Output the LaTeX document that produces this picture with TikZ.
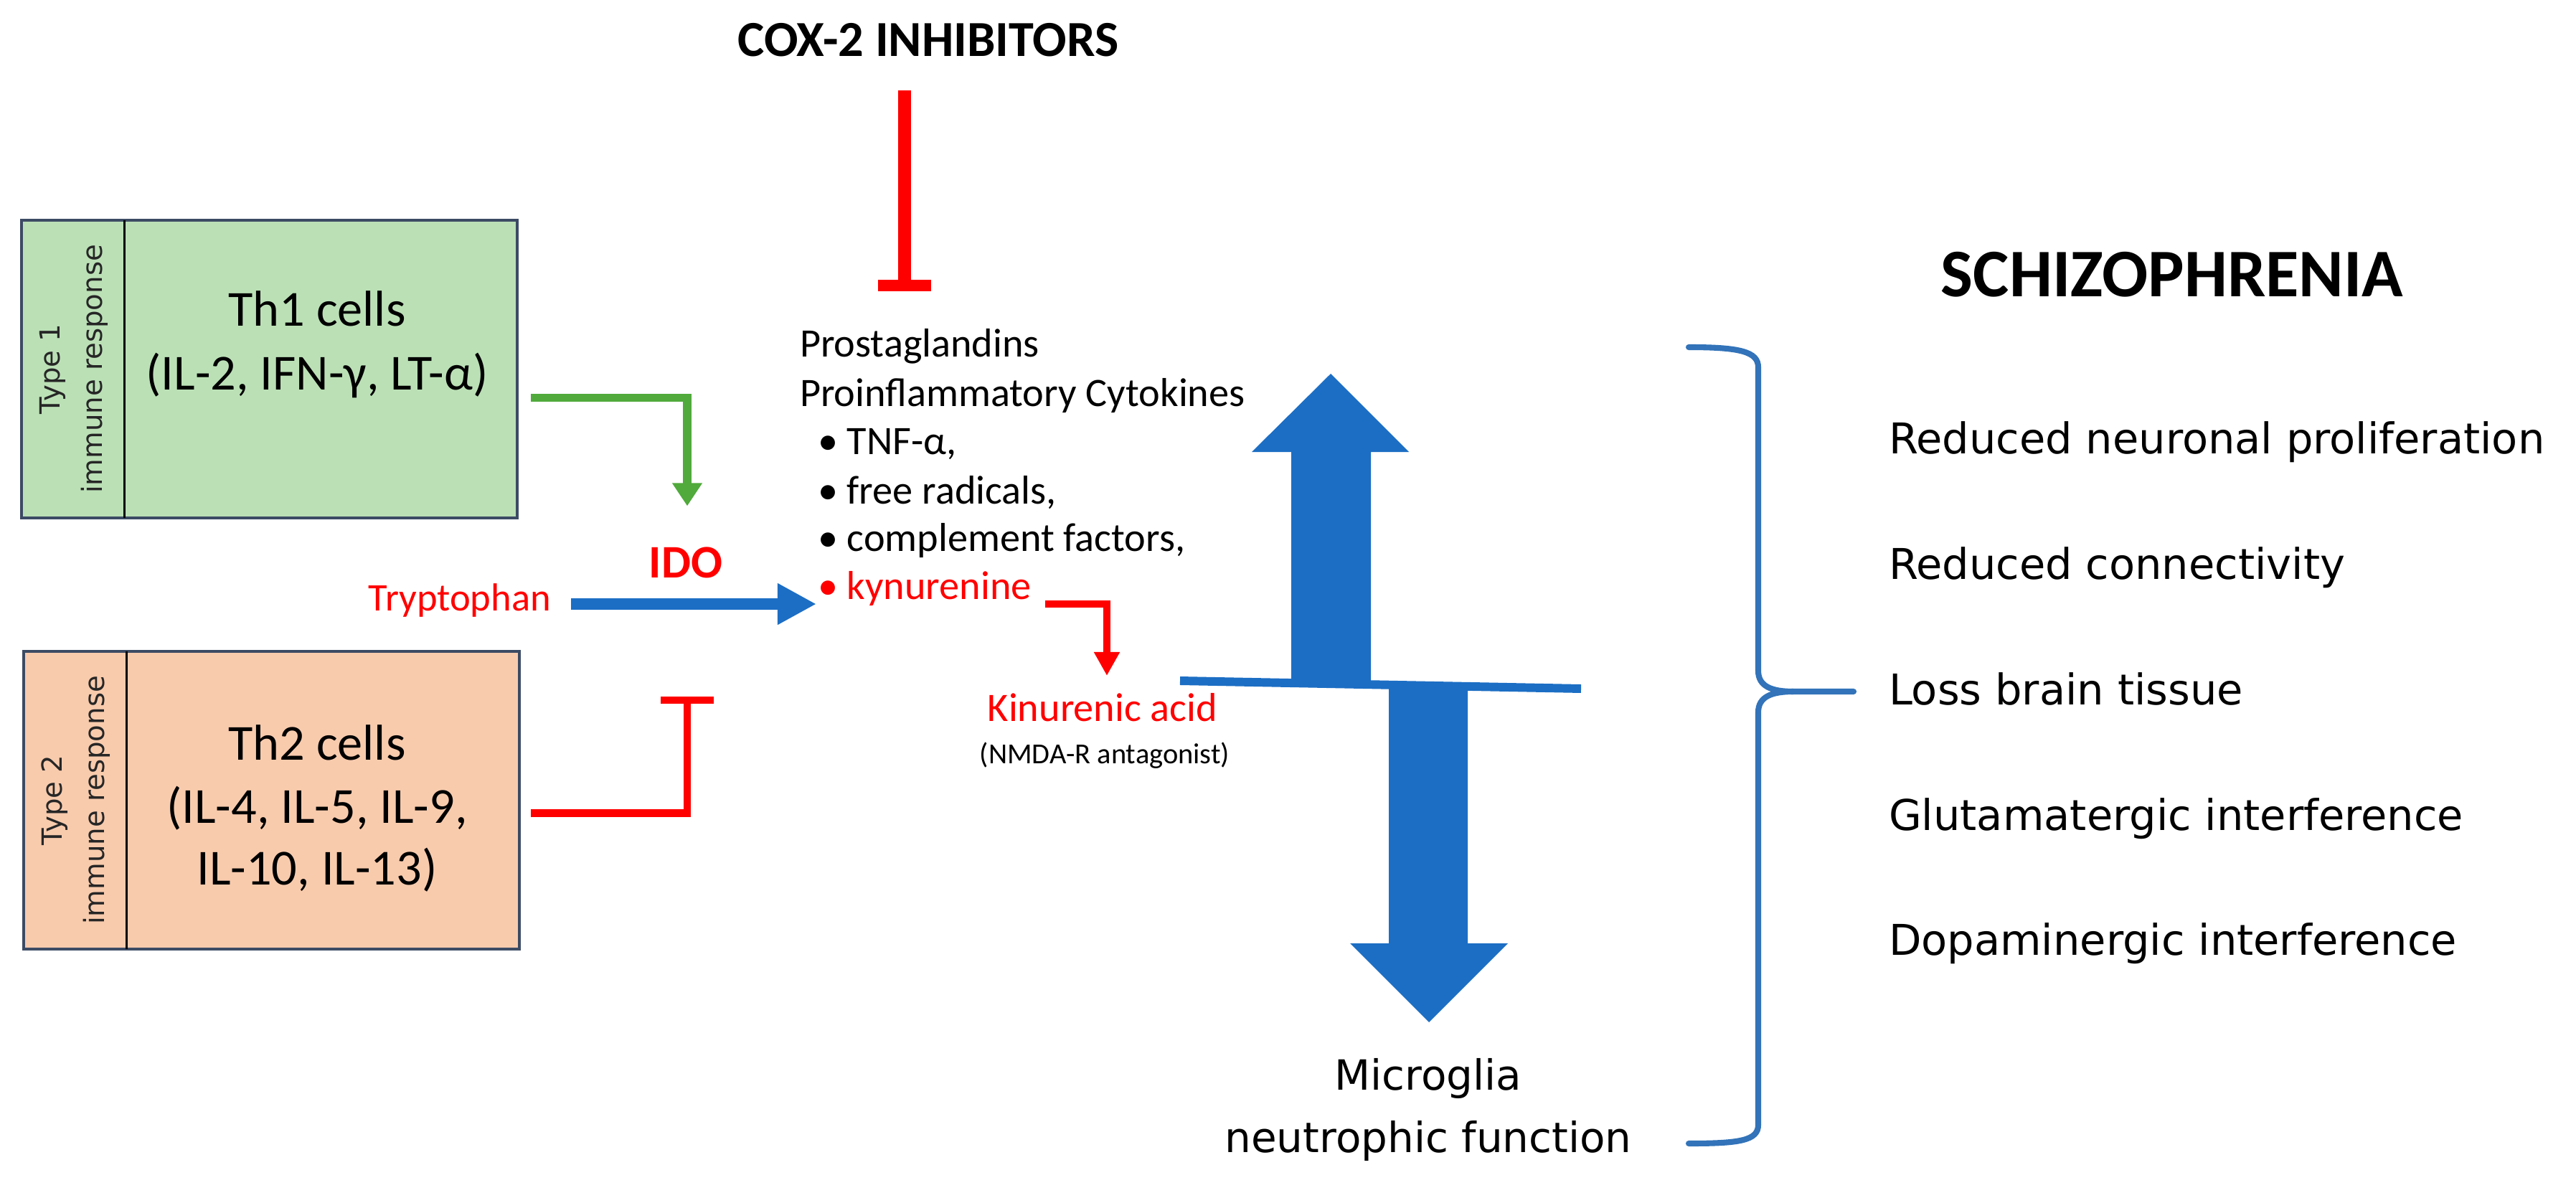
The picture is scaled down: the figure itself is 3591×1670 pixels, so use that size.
\documentclass[tikz,border=0pt]{standalone}
\usepackage{fontspec}
\setmainfont{Carlito}
\newfontfamily\verd{DejaVu Sans}
\usetikzlibrary{arrows.meta,calc}
\definecolor{thonefill}{RGB}{187,224,182}
\definecolor{thtwofill}{RGB}{248,203,173}
\definecolor{boxborder}{RGB}{60,75,100}
\definecolor{bigblue}{RGB}{28,110,196}
\definecolor{braceblue}{RGB}{50,115,185}
\definecolor{arrgreen}{RGB}{80,170,60}
\definecolor{pured}{RGB}{255,0,0}
\begin{document}
\begin{tikzpicture}[x=0.01cm,y=-0.01cm,
  every node/.style={inner sep=0pt,outer sep=0pt},
  cellbox/.style={draw=boxborder,line width=1.1pt,minimum width=6.91cm,minimum height=4.15cm},
  divider/.style={draw=black,line width=0.8pt},
  vlab/.style={rotate=90,align=center,font=\verd\fontsize{11}{16.8}\selectfont,text=black!85},
  celltxt/.style={font=\fontsize{20}{24}\selectfont,anchor=base},
  blk/.style={font=\fontsize{16}{19}\selectfont,anchor=base west},
  verdtxt/.style={font=\verd\fontsize{16.5}{20}\selectfont,anchor=base},
  item/.style={font=\verd\fontsize{16.8}{20}\selectfont,anchor=base west},
  greenarr/.style={draw=arrgreen,line width=3.4pt,-{Triangle[width=4mm,length=3.2mm]}},
  bluearr/.style={draw=bigblue,line width=4.55pt,-{Triangle[width=5.4mm,length=5.4mm]}},
  redarr/.style={draw=pured,line width=3.1pt,-{Triangle[width=3.4mm,length=3.3mm]}},
  redinh/.style={draw=pured,line width=3.1pt},
  redbar/.style={draw=pured,line width=2.9pt},
  coxline/.style={draw=pured,line width=5.1pt},
  coxbar/.style={draw=pured,line width=4.8pt},
  tiltline/.style={draw=bigblue,line width=3.4pt},
  bracestyle/.style={draw=braceblue,line width=2.3pt,line cap=round}]
\useasboundingbox (0,0) rectangle (3591,1670);
\fill[white] (0,0) rectangle (3591,1670);

% COX-2 inhibitors
\node[font=\bfseries\fontsize{20}{24}\selectfont,anchor=base] (cox) at (1294,79) {COX-2 INHIBITORS};
\coordinate (coxinh) at (1261,398);
\draw[coxline] ($(cox.base)+(-33,47)$) -- (coxinh);
\draw[coxbar] ($(coxinh)+(-37,0)$) -- ($(coxinh)+(37,0)$);

% Th1 box
\node[cellbox,fill=thonefill] (th1) at (375.5,514.5) {};
\draw[divider] ($(th1.north west)+(144,0)$) -- ($(th1.south west)+(144,0)$);
\node[vlab] (t1lab) at ($(th1.west)+(73,0)$) {Type 1\\immune response};
\node[celltxt] (th1a) at (442,455) {Th1 cells};
\node[celltxt] (th1b) at (442,544) {(IL-2, IFN-γ, LT-α)};

% Th2 box
\node[cellbox,fill=thtwofill] (th2) at (378.5,1115.5) {};
\draw[divider] ($(th2.north west)+(144,0)$) -- ($(th2.south west)+(144,0)$);
\node[vlab] (t2lab) at ($(th2.west)+(73,0)$) {Type 2\\immune response};
\node[celltxt] (th2a) at (442,1059) {Th2 cells};
\node[celltxt] (th2b) at (442,1147) {(IL-4, IL-5, IL-9,};
\node[celltxt] (th2c) at (442,1233) {IL-10, IL-13)};

% IDO and tryptophan
\node[font=\bfseries\fontsize{18.5}{22}\selectfont,text=pured,anchor=base] (ido) at (956,805) {IDO};
\node[font=\fontsize{15.5}{18}\selectfont,text=pured,anchor=base east] (trp) at (768,851) {Tryptophan};

% central text block
\node[blk] (prost) at (1115,498) {Prostaglandins};
\node[blk] (proinf) at (1115,567) {Proinflammatory Cytokines};
\node[blk] (tnf) at (1140,633) {• TNF-α,};
\node[blk] (frad) at (1140,702) {• free radicals,};
\node[blk] (compl) at (1140,768) {• complement factors,};
\node[blk,text=pured] (kyn) at (1140,835) {• kynurenine};

\node[font=\fontsize{16}{19}\selectfont,text=pured,anchor=base] (kin) at (1537,1005) {Kinurenic acid};
\node[font=\fontsize{11.5}{14}\selectfont,anchor=base] (nmda) at (1540,1064) {(NMDA-R antagonist)};

% connectors
\draw[greenarr] ($(th1.east)+(19,40)$) -| ($(ido.north)+(2,-57)$);
\coordinate (idoinh) at ($(ido.base)+(2,171)$);
\draw[redinh] ($(th2.east)+(16,18)$) -| (idoinh);
\draw[redbar] ($(idoinh)+(-37,0)$) -- ($(idoinh)+(37,0)$);
\draw[bluearr] ($(trp.base east)+(28,-9)$) -- ($(kyn.base west)+(-2,7)$);
\draw[redarr] ($(kyn.base east)+(19,7)$) -| ($(kin.north)+(6,-24)$);

% tilted line and big arrows
\coordinate (tl1) at (1645,949);
\coordinate (tl2) at (2204,960);
\fill[bigblue] (1800,950) -- (1800,630) -- (1745,630) -- (1855,521) -- (1964,630) -- (1911,630) -- (1911,950) -- cycle;
\fill[bigblue] (1936,955) -- (1936,1315) -- (1882,1315) -- (1992,1425) -- (2102,1315) -- (2046,1315) -- (2046,955) -- cycle;
\draw[tiltline] (tl1) -- (tl2);

\node[verdtxt] (mic1) at (1991,1519) {Microglia};
\node[verdtxt] (mic2) at (1991,1606) {neutrophic function};

% brace
\draw[bracestyle] (2354,484) .. controls (2425,484) and (2451,490) .. (2451,512) -- (2451,935) .. controls (2451,957) and (2470,964) .. (2500,964) -- (2584,964);
\draw[bracestyle] (2500,964) .. controls (2470,964) and (2451,971) .. (2451,993) -- (2451,1568) .. controls (2451,1590) and (2425,1594) .. (2354,1594);

% schizophrenia
\node[font=\bfseries\fontsize{27}{32}\selectfont,anchor=base] (schz) at (3028,414) {SCHIZOPHRENIA};
\node[item] (r1) at (2633,632) {Reduced neuronal proliferation};
\node[item] (r2) at (2633,807) {Reduced connectivity};
\node[item] (r3) at (2633,982) {Loss brain tissue};
\node[item] (r4) at (2633,1157) {Glutamatergic interference};
\node[item] (r5) at (2633,1331) {Dopaminergic interference};
\end{tikzpicture}
\end{document}
